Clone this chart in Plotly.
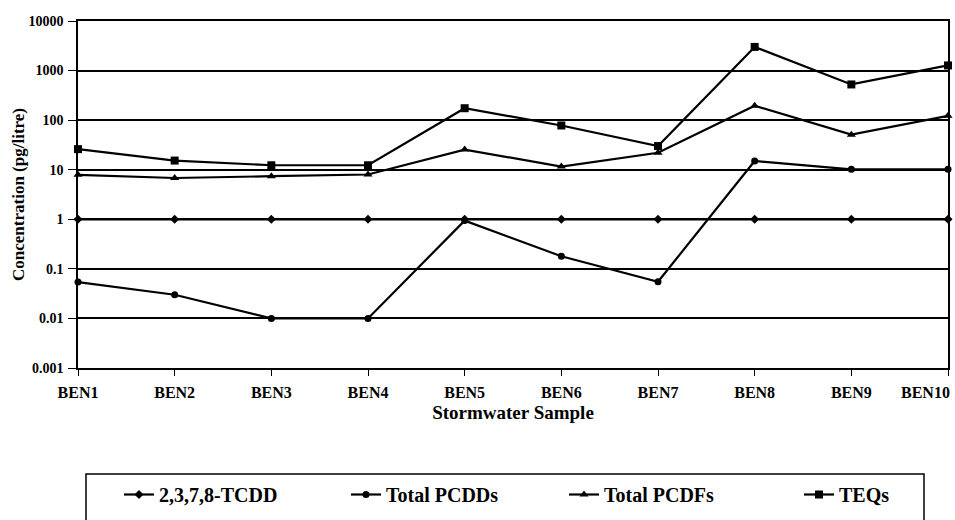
import plotly.graph_objects as go

samples = ["BEN1", "BEN2", "BEN3", "BEN4", "BEN5", "BEN6", "BEN7", "BEN8", "BEN9", "BEN10"]
tcdd = [1.0, 1.0, 1.0, 1.0, 1.0, 1.0, 1.0, 1.0, 1.0, 1.0]
pcdds = [0.054, 0.03, 0.01, 0.01, 0.94, 0.18, 0.055, 15.0, 10.2, 10.2]
pcdfs = [7.9, 6.8, 7.4, 8.0, 25.5, 11.6, 22.0, 195.0, 51.0, 122.0]
teqs = [26.0, 15.3, 12.3, 12.3, 174.0, 78.0, 30.0, 3000.0, 525.0, 1270.0]
ytick_vals = [0.001, 0.01, 0.1, 1, 10, 100, 1000, 10000]
ytick_text = ["0.001", "0.01", "0.1", "1", "10", "100", "1000", "10000"]
# the last label is drawn right-aligned at its tick (as in the original) so it stays on the page
xtick_text = samples[:-1] + [""]

FONT = "Liberation Serif"
TICKFONT = dict(family=FONT, size=16, color="black", weight="bold")

series = [
    ("2,3,7,8-TCDD", tcdd, "diamond", 7, 182),
    ("Total PCDDs", pcdds, "circle", 7, 173),
    ("Total PCDFs", pcdfs, "triangle-up", 8, 190),
    ("TEQs", teqs, "square", 8, 60),
]

fig = go.Figure()
for name, vals, sym, sz, lw in series:
    fig.add_trace(go.Scatter(
        x=samples, y=vals, name=name, mode="lines+markers",
        line=dict(color="black", width=2.2),
        marker=dict(symbol=sym, size=sz, color="black"),
        cliponaxis=False,
        legendwidth=lw,
    ))

PW, PH = 870, 347
fig.update_layout(
    width=955, height=520,
    margin=dict(l=78, r=7, t=21, b=152, autoexpand=False),
    paper_bgcolor="white", plot_bgcolor="white",
    font=dict(family=FONT, color="black"),
    showlegend=True,
    legend=dict(
        orientation="h", x=41 / PW, xanchor="left",
        y=-107 / PH, yanchor="top",
        font=dict(family=FONT, size=20, color="black", weight="bold"),
        bgcolor="rgba(0,0,0,0)", borderwidth=0,
    ),
    xaxis=dict(
        type="category", range=[0, 9], automargin=False,
        tickvals=samples, ticktext=xtick_text,
        showline=True, linecolor="black", linewidth=1.5, mirror=True,
        ticks="outside", ticklen=6, tickcolor="black", tickwidth=1,
        ticklabelstandoff=3,
        showgrid=False, zeroline=False,
        tickfont=TICKFONT,
        title=dict(text="Stormwater Sample", standoff=6,
                   font=dict(family=FONT, size=19, color="black", weight="bold")),
    ),
    yaxis=dict(
        type="log", range=[-3, 4], automargin=False,
        tickvals=ytick_vals, ticktext=ytick_text,
        showline=True, linecolor="black", linewidth=1.5, mirror=True,
        ticks="outside", ticklen=8, tickcolor="black", tickwidth=1,
        ticklabelstandoff=2,
        showgrid=True, gridcolor="black", gridwidth=1.5, zeroline=False,
        tickfont=dict(family=FONT, size=14, color="black", weight="bold"),
        title=dict(text="Concentration (pg/litre)", standoff=0,
                   font=dict(family=FONT, size=17, color="black", weight="bold")),
    ),
    annotations=[dict(text=samples[-1], x=samples[-1], xref="x", y=0, yref="paper",
                      xanchor="right", yanchor="middle", xshift=4, yshift=-24,
                      showarrow=False, font=TICKFONT)],
    shapes=[dict(type="rect", xref="paper", yref="paper",
                 x0=8 / PW, x1=846 / PW,
                 y0=-180 / PH, y1=-106 / PH,
                 line=dict(color="black", width=1.5), fillcolor="rgba(0,0,0,0)")],
)

fig.write_html(
    "out.html",
    config={"displayModeBar": False},
    post_script="document.body.style.margin='0';document.body.style.overflow='hidden';",
)
